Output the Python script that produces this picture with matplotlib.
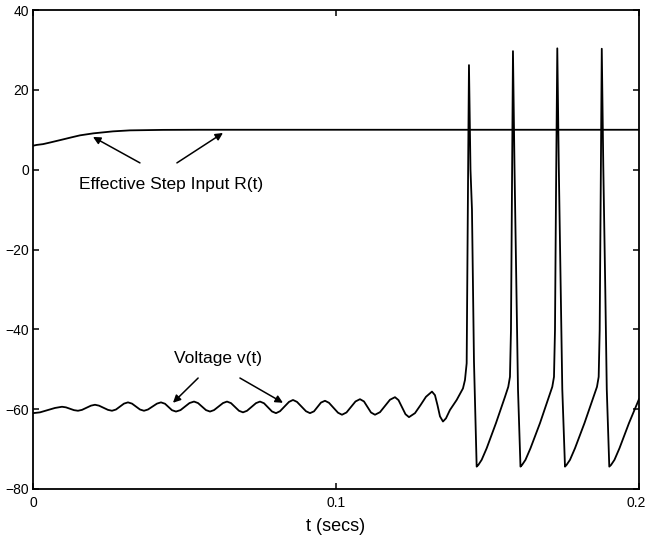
import matplotlib
matplotlib.use('Agg')
import matplotlib.pyplot as plt
import matplotlib.transforms as mtransforms

plt.rcParams['font.family'] = ['Liberation Sans', 'DejaVu Sans']

# effective step input R(t)
r_t = [0.0, 0.0012, 0.0033, 0.0056, 0.0078, 0.0100, 0.0127, 0.0155, 0.0199,
       0.0264, 0.0320, 0.0429, 0.0551, 0.2]
r_v = [6.0, 6.2, 6.4, 6.8, 7.2, 7.6, 8.1, 8.6, 9.1, 9.6, 9.85, 9.97, 10.0, 10.0]

# membrane voltage v(t)
v_t = [0.0, 0.00231, 0.00462, 0.00726, 0.00957, 0.01089, 0.01221, 0.01353, 0.01485,
       0.01617, 0.01766, 0.01914, 0.02046, 0.02178, 0.02327, 0.02475, 0.02607,
       0.02739, 0.02871, 0.03003, 0.03135, 0.03267, 0.03399, 0.03531, 0.03663,
       0.03795, 0.03944, 0.04092, 0.04224, 0.04356, 0.04472, 0.04587, 0.04719,
       0.04868, 0.05016, 0.05165, 0.05314, 0.05446, 0.05578, 0.05710, 0.05842,
       0.05974, 0.06122, 0.06271, 0.06403, 0.06535, 0.06667, 0.06799, 0.06931,
       0.07063, 0.07211, 0.07360, 0.07492, 0.07624, 0.07756, 0.07888, 0.08020,
       0.08152, 0.08300, 0.08449, 0.08581, 0.08713, 0.08861, 0.09010, 0.09142,
       0.09274, 0.09389, 0.09505, 0.09637, 0.09769, 0.09917, 0.10066, 0.10198,
       0.10347, 0.10495, 0.10644, 0.10792, 0.10924, 0.11040, 0.11155, 0.11287,
       0.11452, 0.11617, 0.11782, 0.11947, 0.12063, 0.12178, 0.12294, 0.12409,
       0.12607, 0.12789, 0.12970, 0.13168, 0.13267, 0.13350, 0.13432, 0.13531,
       0.13630, 0.13762, 0.13983, 0.14191, 0.14257, 0.14313, 0.14340, 0.14366,
       0.14389, 0.14439, 0.14488, 0.14554, 0.14643, 0.14696, 0.14808, 0.14973,
       0.15280, 0.15578, 0.15686, 0.15742, 0.15775, 0.15808, 0.15841, 0.15891,
       0.15957, 0.16007, 0.16089, 0.16139, 0.16254, 0.16419, 0.16733, 0.17030,
       0.17139, 0.17195, 0.17228, 0.17261, 0.17304, 0.17353, 0.17419, 0.17469,
       0.17558, 0.17607, 0.17723, 0.17888, 0.18201, 0.18498, 0.18614, 0.18670,
       0.18703, 0.18736, 0.18772, 0.18822, 0.18888, 0.18937, 0.19020, 0.19076,
       0.19191, 0.19356, 0.19670, 0.20000]
v_v = [-61.0, -60.8, -60.3, -59.7, -59.4, -59.55, -59.9, -60.25, -60.4,
       -60.18, -59.65, -59.12, -58.9, -59.12, -59.65, -60.18, -60.4,
       -60.09, -59.35, -58.61, -58.3, -58.61, -59.35, -60.09, -60.4,
       -60.09, -59.35, -58.61, -58.3, -58.64, -59.45, -60.26, -60.6,
       -60.24, -59.35, -58.47, -58.1, -58.47, -59.35, -60.24, -60.6,
       -60.24, -59.35, -58.47, -58.1, -58.49, -59.45, -60.41, -60.8,
       -60.41, -59.45, -58.49, -58.1, -58.52, -59.55, -60.58, -61.0,
       -60.52, -59.35, -58.18, -57.7, -58.18, -59.35, -60.52, -61.0,
       -60.55, -59.45, -58.35, -57.9, -58.41, -59.65, -60.89, -61.4,
       -60.83, -59.45, -58.07, -57.5, -58.07, -59.45, -60.83, -61.4,
       -60.76, -59.2, -57.64, -57.0, -57.73, -59.5, -61.27, -62.0,
       -61.0, -59.0, -56.9, -55.6, -56.5, -59.0, -61.8, -63.1,
       -62.3, -60.2, -57.7, -54.8, -52.7, -48.5, -20.0, 5.0,
       26.2, 0.0, -10.0, -48.0, -74.4, -74.0, -72.7, -69.8,
       -63.5, -56.9, -54.4, -51.9, -40.2, -6.7, 29.7, 1.0,
       -30.0, -55.0, -74.4, -74.0, -72.7, -69.8, -63.5, -56.9,
       -54.4, -51.9, -40.2, -6.7, 30.4, 1.0, -30.0, -55.0,
       -74.4, -74.0, -72.7, -69.8, -63.5, -56.9, -54.4, -51.9,
       -40.2, -6.7, 30.3, 1.0, -30.0, -55.0, -74.4, -74.0,
       -72.7, -69.8, -63.5, -57.5]

x_ticks = [0, 0.1, 0.2]
x_ticklabels = ['0', '0.1', '0.2']
y_ticks = [-80, -60, -40, -20, 0, 20, 40]

fig = plt.figure(figsize=(6.47, 5.39), dpi=100)
ax = fig.add_axes([0.051, 0.0928, 0.9366, 0.8886])

ax.plot(r_t, r_v, color='black', lw=1.3)
ax.plot(v_t, v_v, color='black', lw=1.3)

ax.set_xlim(0, 0.2)
ax.set_ylim(-80, 40)
ax.set_xticks(x_ticks)
ax.set_xticklabels(x_ticklabels)
ax.set_yticks(y_ticks)
ax.tick_params(direction='in', length=4.5, width=1.1, top=True, right=True,
               labelsize=10)
ax.tick_params(axis='x', pad=5)
ax.tick_params(axis='y', pad=3)
for s in ax.spines.values():
    s.set_linewidth(1.3)

# keep the last x label inside the canvas
last = ax.get_xticklabels()[-1]
last.set_transform(last.get_transform() +
                   mtransforms.ScaledTranslation(-0.03, 0, fig.dpi_scale_trans))

ax.set_xlabel('t (secs)', fontsize=13, labelpad=6)

arrow = dict(arrowstyle='-|>', color='black', lw=1.1, mutation_scale=11,
             shrinkA=0, shrinkB=0)
ax.text(0.0455, -3.8, 'Effective Step Input R(t)', fontsize=12.5,
        ha='center', va='center')
ax.annotate('', xy=(0.0198, 8.2), xytext=(0.0353, 1.7), arrowprops=arrow)
ax.annotate('', xy=(0.0627, 9.2), xytext=(0.0475, 1.7), arrowprops=arrow)

ax.text(0.0611, -47.4, 'Voltage v(t)', fontsize=12.5, ha='center', va='center')
ax.annotate('', xy=(0.0462, -58.4), xytext=(0.0545, -52.2), arrowprops=arrow)
ax.annotate('', xy=(0.0825, -58.4), xytext=(0.0683, -52.2), arrowprops=arrow)

fig.savefig('out.png', dpi=100)
